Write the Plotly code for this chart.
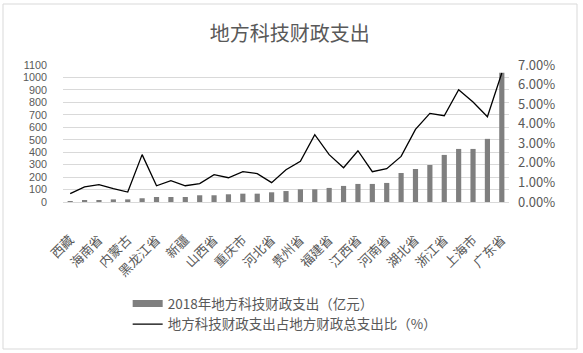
import plotly.graph_objects as go

provinces = ["西藏", "青海省", "海南省", "宁夏", "内蒙古", "甘肃省", "黑龙江省", "吉林省",
             "新疆", "云南省", "山西省", "辽宁省", "重庆市", "天津市", "河北省", "广西",
             "贵州省", "陕西省", "福建省", "四川省", "江西省", "湖南省", "河南省", "安徽省",
             "湖北省", "北京市", "浙江省", "山东省", "上海市", "江苏省", "广东省"]
spending = [4, 10, 10, 21, 21, 30, 40, 40, 40, 54, 54, 62, 67, 67, 78, 88,
            102, 102, 113, 129, 145, 145, 153, 233, 265, 297, 378, 426, 426, 507, 1037]
share = [0.43, 0.77, 0.89, 0.68, 0.51, 2.42, 0.83, 1.09, 0.83, 0.94, 1.40, 1.24, 1.55, 1.45,
         0.99, 1.65, 2.08, 3.44, 2.42, 1.75, 2.62, 1.55, 1.70, 2.33, 3.71, 4.53, 4.41, 5.74,
         5.11, 4.36, 6.59]
tick_labels = provinces[::2]
bar_name = "2018年地方科技财政支出（亿元）"
line_name = "地方科技财政支出占地方财政总支出比（%）"

FONT = "Noto Sans CJK SC"
NUMFONT = "Liberation Sans"
GRAY = "#595959"
BAR = "#7f7f7f"

fig = go.Figure()
fig.add_trace(go.Bar(
    x=provinces, y=spending, name=bar_name, showlegend=False,
    marker=dict(color=BAR, line=dict(width=0)), width=0.36, yaxis="y"))
# legend swatch for the bars (wide rectangle like the reference)
fig.add_trace(go.Scatter(
    x=[None], y=[None], name=bar_name, mode="lines",
    line=dict(color=BAR, width=7), yaxis="y", legendrank=1))
fig.add_trace(go.Scatter(
    x=provinces, y=share, name=line_name, legendrank=2,
    mode="lines", line=dict(color="black", width=1.3), yaxis="y2"))

fig.update_layout(
    width=583, height=353,
    margin=dict(l=63, r=74, t=65, b=151),
    paper_bgcolor="white", plot_bgcolor="white",
    font=dict(family=FONT, color=GRAY, size=12),
    title=dict(text="地方科技财政支出", x=0.497, xanchor="center", y=0.905, yanchor="middle",
               font=dict(size=20, color=GRAY, family=FONT)),
    showlegend=True,
    legend=dict(x=0.145, xanchor="left", y=-0.63, yanchor="top",
                font=dict(size=13.5, color=GRAY, family=FONT),
                bgcolor="rgba(0,0,0,0)", tracegroupgap=4, itemwidth=30),
    xaxis=dict(type="category", tickmode="array", tickvals=tick_labels, ticktext=tick_labels,
               tickangle=-45, showgrid=False, showline=True, linecolor="#d9d9d9",
               ticks="", ticklabelstandoff=24,
               tickfont=dict(size=13, color=GRAY, family=FONT)),
    yaxis=dict(range=[0, 1100], dtick=100, showgrid=True, gridcolor="#d9d9d9", gridwidth=1,
               zeroline=False, ticks="", ticklabelstandoff=15,
               tickfont=dict(size=10.8, color=GRAY, family=NUMFONT)),
    yaxis2=dict(range=[0, 7], dtick=1, overlaying="y", side="right", showgrid=False,
                zeroline=False, ticks="", ticksuffix="%", tickformat=".2f",
                ticklabelstandoff=8,
                tickfont=dict(size=13, color=GRAY, family=FONT)),
    shapes=[dict(type="rect", xref="paper", yref="paper",
                 x0=(3 - 63) / 446, x1=(577 - 63) / 446,
                 y0=(202 - 349) / 137, y1=(202 - 4) / 137,
                 line=dict(color="#d9d9d9", width=1), fillcolor="rgba(0,0,0,0)", layer="below")],
)

fig.write_html("out.html")
